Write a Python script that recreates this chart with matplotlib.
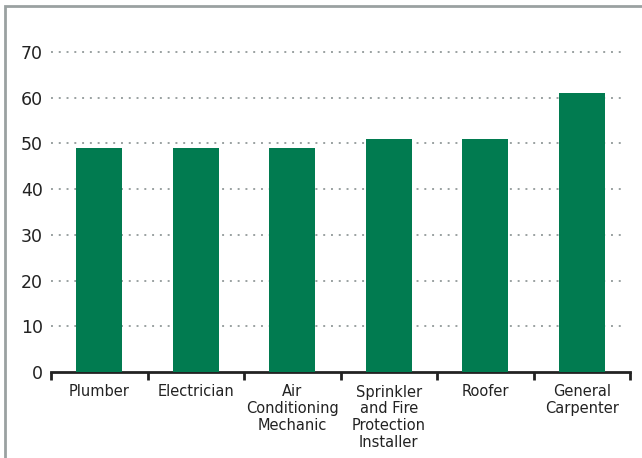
import matplotlib.pyplot as plt
from matplotlib.patches import Rectangle
import numpy as np

plt.rcParams['font.family'] = ['Liberation Sans Narrow', 'DejaVu Sans']

# data
jobs = ['Plumber', 'Electrician', 'Air\nConditioning\nMechanic',
        'Sprinkler\nand Fire\nProtection\nInstaller', 'Roofer',
        'General\nCarpenter']
values = [49, 49, 49, 51, 51, 61]
yticks = [0, 10, 20, 30, 40, 50, 60, 70]

green = '#017b50'
gray = '#9aa1a1'

fig = plt.figure(figsize=(6.42, 4.58), dpi=100)
W, H = 642, 458
ax = fig.add_axes([51 / W, (H - 372) / H, (630 - 51) / W, (372 - 29) / H])

x = np.arange(len(jobs))
ax.bar(x, values, width=0.48, color=green, zorder=3)

ax.set_xlim(-0.5, len(jobs) - 0.5)
ax.set_ylim(0, 75)

ax.set_yticks(yticks)
ax.tick_params(axis='y', length=0, pad=6, labelsize=12.5, colors='#222222')
for y in yticks[1:]:
    ax.axhline(y, xmin=0, xmax=0.99, color=gray, linewidth=1.4,
               linestyle=(0, (1, 3)), zorder=1)

ax.set_xticks(x)
ax.set_xticklabels(jobs, fontsize=10.5, color='#222222', linespacing=1.15,
                   va='top')
ax.tick_params(axis='x', which='major', length=0, pad=9)
ax.set_xticks(np.arange(-0.5, len(jobs)), minor=True)
ax.tick_params(axis='x', which='minor', length=6, width=2, color='#222222')

for s in ['left', 'right', 'top']:
    ax.spines[s].set_visible(False)
ax.spines['bottom'].set_linewidth(2)
ax.spines['bottom'].set_color('#222222')

# outer frame, cut off at right and bottom
fig.patches.append(Rectangle((5 / W, -0.1), 1.2, (H - 6) / H + 0.1,
                             transform=fig.transFigure, fill=False,
                             edgecolor=gray, linewidth=2))

plt.savefig('out.png', dpi=100)
